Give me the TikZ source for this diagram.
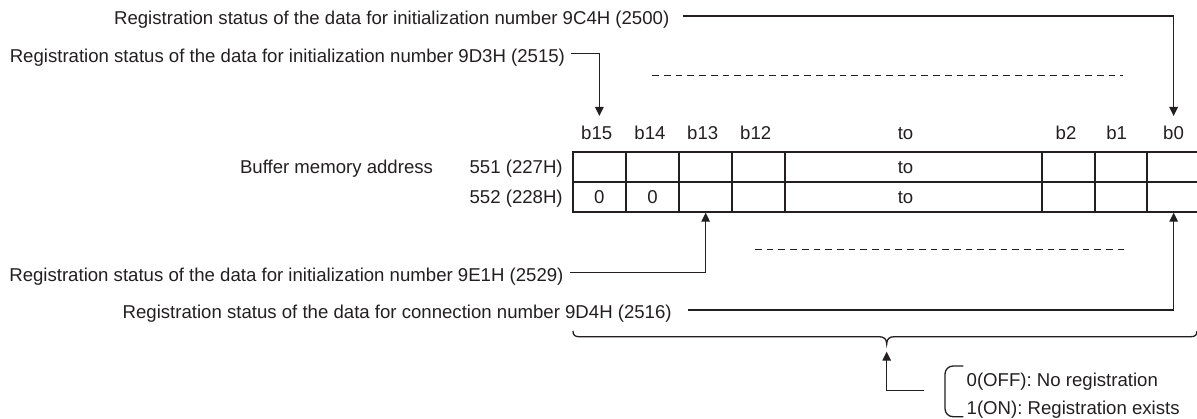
\documentclass[tikz,border=0pt]{standalone}
\usepackage{fontspec}
\setmainfont{Liberation Sans}
\usetikzlibrary{arrows.meta}
\definecolor{ink}{HTML}{231F20}
\begin{document}
\begin{tikzpicture}[x=1pt,y=-1pt,
  every node/.style={font=\fontsize{18.6}{22}\selectfont, text=ink, inner sep=0pt, outer sep=0pt},
  lbl/.style={text height=18pt, text depth=0pt, anchor=east},
  hdr/.style={anchor=base},
  celltxt/.style={text height=13.3pt, text depth=0pt},
  cell/.style={draw=ink, line width=2pt, minimum height=29.7pt, celltxt},
  conn/.style={draw=ink, line width=1.3pt},
  arr/.style={conn, -{Triangle[length=9pt,width=8.5pt]}},
  dashline/.style={draw=ink, line width=1.2pt, dash pattern=on 6.7pt off 5pt}]
\useasboundingbox (0,0) rectangle (1197,419);

% table cells, row 1
\node[cell, minimum width=53.3pt] (r1c15) at (599.35,167.15) {};
\node[cell, minimum width=53pt]   (r1c14) at (652.5,167.15) {};
\node[cell, minimum width=53.3pt] (r1c13) at (705.65,167.15) {};
\node[cell, minimum width=52.7pt] (r1c12) at (758.65,167.15) {};
\node[cell, minimum width=257.3pt] (r1to) at (913.65,167.15) {};
\node[cell, minimum width=52.7pt] (r1c2) at (1068.65,167.15) {};
\node[cell, minimum width=52.3pt] (r1c1) at (1121.15,167.15) {};
\node[cell, minimum width=52.7pt] (r1c0) at (1173.65,167.15) {};
% row 2
\node[cell, minimum width=53.3pt] (r2c15) at (599.35,196.85) {0};
\node[cell, minimum width=53pt]   (r2c14) at (652.5,196.85) {0};
\node[cell, minimum width=53.3pt] (r2c13) at (705.65,196.85) {};
\node[cell, minimum width=52.7pt] (r2c12) at (758.65,196.85) {};
\node[cell, minimum width=257.3pt] (r2to) at (913.65,196.85) {};
\node[cell, minimum width=52.7pt] (r2c2) at (1068.65,196.85) {};
\node[cell, minimum width=52.3pt] (r2c1) at (1121.15,196.85) {};
\node[cell, minimum width=52.7pt] (r2c0) at (1173.65,196.85) {};
\node[celltxt] (to1) at (905.5,167.15) {to};
\node[celltxt] (to2) at (905.5,196.85) {to};

% header labels
\node[hdr] (h15) at (596.7,140) {b15};
\node[hdr] (h14) at (650,140) {b14};
\node[hdr] (h13) at (702.7,140) {b13};
\node[hdr] (h12) at (755.7,140) {b12};
\node[hdr] (hto) at (905.5,140) {to};
\node[hdr] (h2) at (1066,140) {b2};
\node[hdr] (h1) at (1116.7,140) {b1};
\node[hdr] (h0) at (1173.5,140) {b0};

% address labels
\node[anchor=base east] (bma) at (433,174) {Buffer memory address};
\node[anchor=base east] (a551) at (562.7,174) {551 (227H)};
\node[anchor=base east] (a552) at (562.7,204) {552 (228H)};

% description texts
\node[lbl] (t1) at (669.3,16) {Registration status of the data for initialization number 9C4H (2500)};
\node[lbl] (t2) at (565,53.3) {Registration status of the data for initialization number 9D3H (2515)};
\node[lbl] (t3) at (563.5,272.3) {Registration status of the data for initialization number 9E1H (2529)};
\node[lbl] (t4) at (671.7,310) {Registration status of the data for connection number 9D4H (2516)};

% connectors
\draw[arr] ([xshift=13.4pt]t1.east) -| ([yshift=36.3pt]r1c0.north);
\draw[arr] ([xshift=5.7pt]t2.east) -| ([yshift=36.3pt]r1c15.north);
\draw[arr] ([xshift=6.5pt]t3.east) -| ([yshift=-1pt]r2c13.south);
\draw[arr] ([xshift=16.6pt]t4.east) -| ([yshift=-1pt]r2c0.south);

% dashed lines
\draw[dashline] (652.3,75.3) -- (1123.3,75.3);
\draw[dashline] (755,249.3) -- (1124,249.3);

% brace
\draw[conn] (573,331) .. controls (573,335) and (575,336.7) .. (579,336.7)
  -- (879,336.7) .. controls (884,336.7) and (886.7,339) .. (886.7,344)
  .. controls (886.7,339) and (889.4,336.7) .. (894.4,336.7)
  -- (1191,336.7) .. controls (1195,336.7) and (1197,335) .. (1197,331);
\coordinate (bt) at (886.7,344);

% legend
\node[anchor=west, celltxt] (l0) at (966.7,380) {0(OFF): No registration};
\node[anchor=west, celltxt] (l1) at (966.7,408.3) {1(ON): Registration exists};
\draw[conn, rounded corners=8pt] (963.3,366) -- (945,366) -- (945,416.7) -- (963.3,416.7);
\coordinate (legarr) at (924,390.7);
\draw[arr] (legarr) -| ([yshift=-7.7pt]bt);
\end{tikzpicture}
\end{document}
